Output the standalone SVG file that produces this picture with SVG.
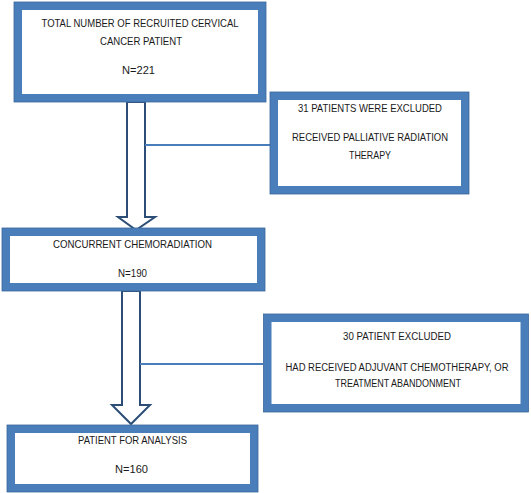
<svg xmlns="http://www.w3.org/2000/svg" width="531" height="493" viewBox="0 0 531 493">
<style>
.box{fill:#fff;stroke:#4a7ebb;stroke-width:8}
.edge{fill:none;stroke:#3a6699;stroke-width:0.8}
.arrow{fill:#fff;stroke:#2c4d75;stroke-width:2;stroke-linejoin:miter}
.link{stroke:#4a7ebb;stroke-width:2;fill:none}
text{font-family:"Liberation Sans",Arial,sans-serif;font-size:11.5px;fill:#1a1a1a;text-anchor:middle}
text.small{font-size:10px}
</style>
<rect width="531" height="493" fill="#fff"/>
<g id="connectors">
<path class="arrow" d="M127,102 L145,102 L145,217 L155,217 L136,230 L118,217 L127,217 Z"/>
<path class="arrow" d="M122,291 L140,291 L140,405 L150,405 L131,424 L112,405 L122,405 Z"/>
<line class="link" x1="145" y1="145" x2="270" y2="145"/>
<line class="link" x1="140" y1="364" x2="263" y2="364"/>
</g>
<g id="node1">
<rect class="box" x="18" y="6" width="244" height="92"/>
<rect class="edge" x="14" y="2" width="252" height="100"/>
<text x="140" y="27" textLength="197" lengthAdjust="spacingAndGlyphs">TOTAL NUMBER OF RECRUITED CERVICAL</text>
<text x="141" y="45" textLength="82" lengthAdjust="spacingAndGlyphs">CANCER PATIENT</text>
<text x="138.5" y="74" textLength="33" lengthAdjust="spacingAndGlyphs">N=221</text>
</g>
<g id="node2">
<rect class="box" x="274" y="96" width="191" height="94"/>
<rect class="edge" x="270" y="92" width="199" height="102"/>
<text x="370" y="112" textLength="144" lengthAdjust="spacingAndGlyphs">31 PATIENTS WERE EXCLUDED</text>
<text x="370" y="141" textLength="156" lengthAdjust="spacingAndGlyphs">RECEIVED PALLIATIVE RADIATION</text>
<text x="370" y="159" textLength="42" lengthAdjust="spacingAndGlyphs">THERAPY</text>
</g>
<g id="node3">
<rect class="box" x="6" y="232" width="255" height="55"/>
<rect class="edge" x="2" y="228" width="263" height="63"/>
<text x="132.5" y="248" textLength="159" lengthAdjust="spacingAndGlyphs">CONCURRENT CHEMORADIATION</text>
<text x="132.5" y="277" textLength="29" lengthAdjust="spacingAndGlyphs">N=190</text>
</g>
<g id="node4">
<rect class="box" x="267.5" y="318" width="257" height="90"/>
<rect class="edge" x="263.5" y="314" width="265" height="98"/>
<text x="397" y="340" textLength="108" lengthAdjust="spacingAndGlyphs">30 PATIENT EXCLUDED</text>
<text class="small" x="397" y="371" textLength="223" lengthAdjust="spacingAndGlyphs">HAD RECEIVED ADJUVANT CHEMOTHERAPY, OR</text>
<text x="398" y="387" textLength="126" lengthAdjust="spacingAndGlyphs">TREATMENT ABANDONMENT</text>
</g>
<g id="node5">
<rect class="box" x="11" y="429" width="243" height="59"/>
<rect class="edge" x="7" y="425" width="251" height="67"/>
<text x="132.5" y="444" textLength="109" lengthAdjust="spacingAndGlyphs">PATIENT FOR ANALYSIS</text>
<text x="131.5" y="473" textLength="33" lengthAdjust="spacingAndGlyphs">N=160</text>
</g>
</svg>
